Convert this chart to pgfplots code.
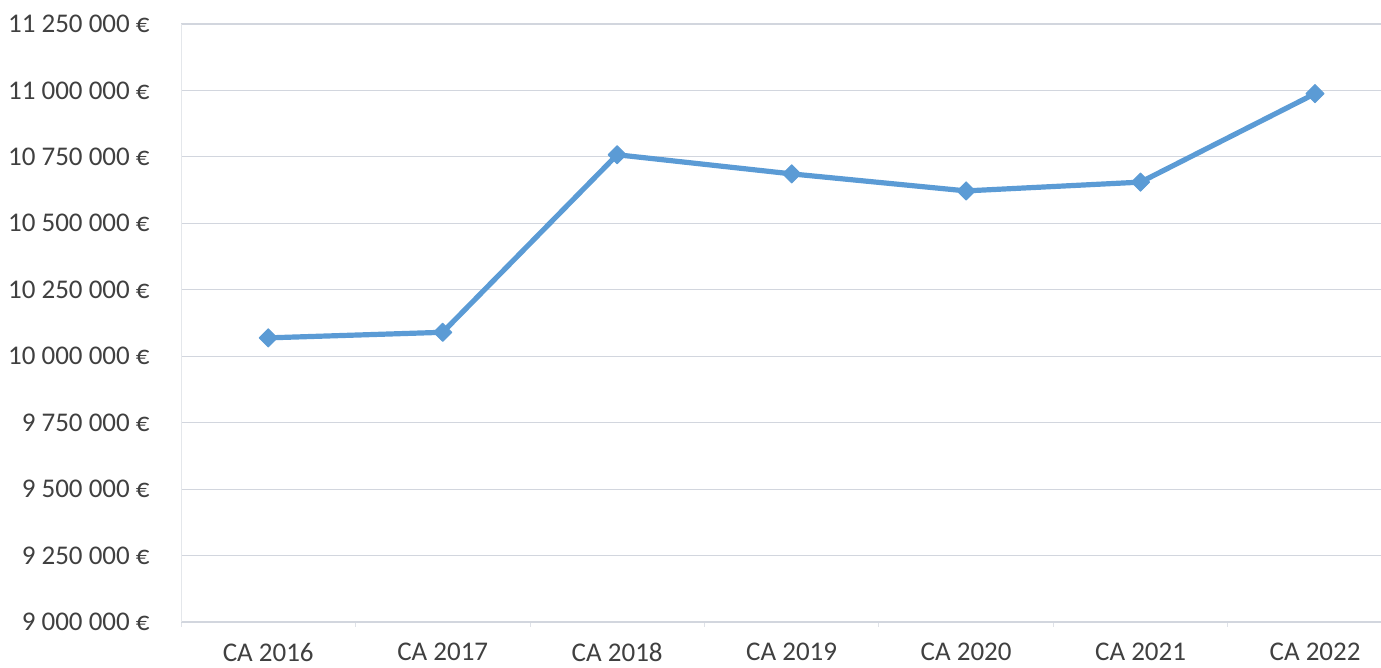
\documentclass[border=0pt]{standalone}
\usepackage{pgfplots}
\pgfplotsset{compat=1.18}
\usepackage{fontspec}
\setmainfont{Carlito}
\definecolor{serieblue}{RGB}{91,155,213}
\definecolor{gridgray}{RGB}{210,214,222}
\definecolor{labelgray}{RGB}{64,64,64}
\begin{document}
\begin{tikzpicture}
\useasboundingbox (0,0) rectangle (690.5pt,334pt);
\begin{axis}[
  at={(90.5pt,23pt)}, anchor=south west,
  scale only axis,
  width=600pt, height=299pt,
  xmin=-0.5, xmax=6.378,
  ymin=9000000, ymax=11250000,
  scaled y ticks=false,
  xtick={0,1,2,3,4,5,6},
  xticklabels={CA 2016,CA 2017,CA 2018,CA 2019,CA 2020,CA 2021,CA 2022},
  minor xtick={-0.5,0.5,1.5,2.5,3.5,4.5,5.5},
  ytick={9000000,9250000,9500000,9750000,10000000,10250000,10500000,10750000,11000000,11250000},
  yticklabels={9 000 000 €,9 250 000 €,9 500 000 €,9 750 000 €,10 000 000 €,10 250 000 €,10 500 000 €,10 750 000 €,11 000 000 €,11 250 000 €},
  ymajorgrids,
  major grid style={gridgray, line width=0.6pt},
  axis x line*=bottom,
  axis y line*=left,
  x axis line style={gridgray, line width=0.6pt, -},
  y axis line style={gridgray!60, line width=0.5pt, -},
  major tick length=0pt,
  minor tick length=2.5pt,
  tick align=outside,
  minor tick style={gridgray!70, line width=0.4pt},
  tick label style={font=\fontsize{13.5}{16}\selectfont, text=labelgray},
  yticklabel style={anchor=east, inner sep=0pt, xshift=-15.5pt},
  xticklabel style={anchor=north, inner sep=0pt, text depth=0pt, yshift=-10.5pt},
  clip=false,
]
\addplot[serieblue, line width=2.6pt, line join=round,
  mark=square*, mark size=3.2pt,
  mark options={rotate=45, fill=serieblue, draw=serieblue, line width=0.5pt}]
  coordinates {
    (0,10069000)
    (1,10090000)
    (2,10758000)
    (3,10686000)
    (4,10622000)
    (5,10655000)
    (6,10988000)
  };
\end{axis}
\end{tikzpicture}
\end{document}
